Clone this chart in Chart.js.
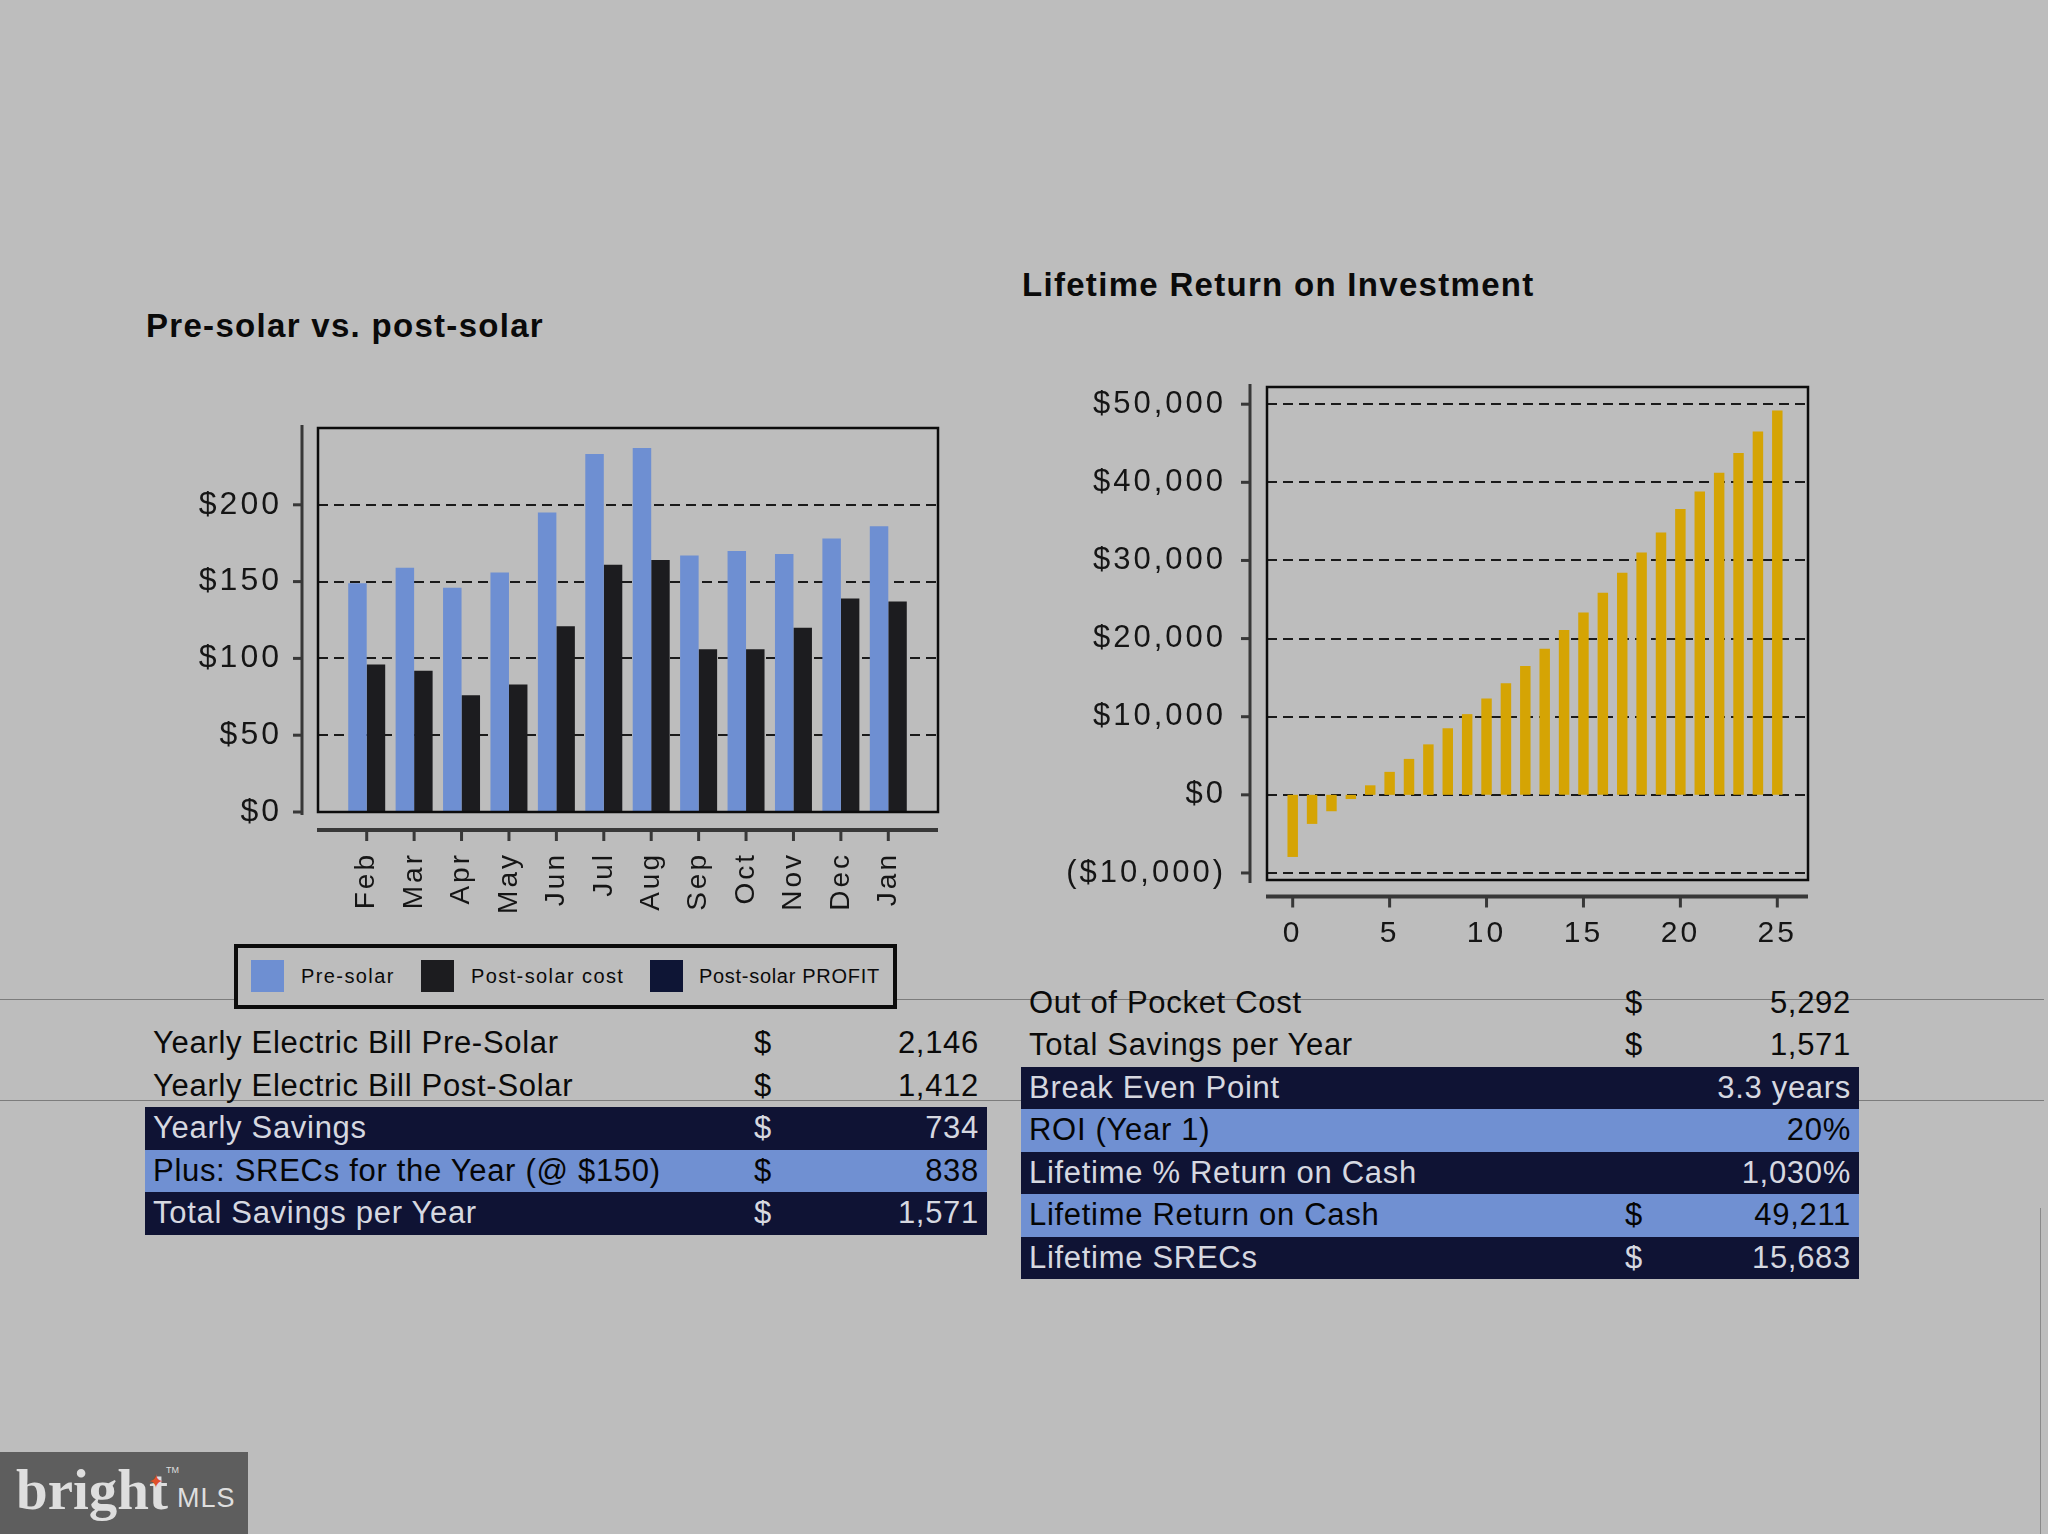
<!DOCTYPE html>
<html>
<head>
<meta charset="utf-8">
<script src="https://cdn.jsdelivr.net/npm/chart.js"></script>
<style>
  html, body { margin: 0; padding: 0; }
  body { width: 2048px; height: 1534px; background: #bdbdbd; position: relative; overflow: hidden;
         font-family: "Liberation Sans", Arial, sans-serif; color: #0a0a0a; }
  .hline { position: absolute; left: 0; width: 2044px; height: 1px; background: #7c7c7c; }
  .vline { position: absolute; left: 2040px; top: 1208px; width: 1px; height: 326px; background: #8a8a8a; }
  .title { position: absolute; font-weight: bold; font-size: 33px; line-height: 33px; letter-spacing: 1.3px; white-space: nowrap; }
  canvas { position: absolute; }
  #legend { position: absolute; left: 234px; top: 944px; width: 663px; height: 65px; border: 4px solid #0c0c0c;
            background: #bdbdbd; box-sizing: border-box; }
  #legend .sw { position: absolute; top: 12px; width: 33px; height: 32px; }
  #legend .lb { position: absolute; top: 16px; font-size: 20px; line-height: 24px; white-space: nowrap; }
  .tbl { position: absolute; }
  .row { position: relative; height: 42.5px; line-height: 42.5px; font-size: 31px; letter-spacing: 0.7px; white-space: nowrap; }
  .row span { position: absolute; top: 0; }
  .row.dark { background: #0f1334; color: #d6d8e0; }
  .row.light { background: #7090d2; color: #050505; }
  #logo { position: absolute; left: 0; top: 1452px; width: 248px; height: 82px; background: #5e5e5e; color: #dedede; }
</style>
</head>
<body>
<div class="hline" style="top:999px"></div>
<div class="hline" style="top:1100px"></div>
<div class="vline"></div>

<div class="title" style="left:146px; top:309px">Pre-solar vs. post-solar</div>
<div class="title" style="left:1022px; top:268px">Lifetime Return on Investment</div>

<canvas id="billChart" width="820" height="530" style="left:140px; top:400px"></canvas>
<canvas id="roiChart" width="820" height="600" style="left:1020px; top:360px"></canvas>

<div id="legend"></div>
<div class="tbl" id="leftTable" style="left:145px; top:1022px; width:842px"></div>
<div class="tbl" id="rightTable" style="left:1021px; top:981.7px; width:838px"></div>

<div id="logo">
  <span style="position:absolute; left:16px; top:5px; font-family:'Liberation Serif', serif; font-weight:bold; font-size:57px;">bright</span>
  <span style="position:absolute; left:148px; top:18px; color:#e0502a; font-size:19px; font-family:'DejaVu Sans';">&#10022;</span>
  <span style="position:absolute; left:166px; top:13px; font-size:9px;">TM</span>
  <span style="position:absolute; left:177px; top:31px; font-size:27px; letter-spacing:1px;">MLS</span>
</div>

<script>
Chart.defaults.font.family = '"Liberation Sans", Arial, sans-serif';
Chart.defaults.color = '#151515';

// monthly bills
var months = ['Feb', 'Mar', 'Apr', 'May', 'Jun', 'Jul', 'Aug', 'Sep', 'Oct', 'Nov', 'Dec', 'Jan'];
var preSolar = [149, 159, 146, 156, 195, 233, 237, 167, 170, 168, 178, 186];
var postSolarCost = [96, 92, 76, 83, 121, 161, 164, 106, 106, 120, 139, 137];
var postSolarProfit = [0, 0, 0, 0, 0, 0, 0, 0, 0, 0, 0, 0];
var billTicks = [0, 50, 100, 150, 200];

// lifetime return
var years = [0, 1, 2, 3, 4, 5, 6, 7, 8, 9, 10, 11, 12, 13, 14, 15, 16, 17, 18, 19, 20, 21, 22, 23, 24, 25];
var cumulativeReturn = [-7950, -3720, -2100, -540, 1220, 2940, 4600, 6460, 8520, 10330, 12340, 14290, 16500,
                        18700, 21100, 23350, 25850, 28440, 31030, 33580, 36570, 38820, 41220, 43760, 46500, 49200];
var roiTicks = [-10000, 0, 10000, 20000, 30000, 40000, 50000];

// tables
var leftRows = ['Yearly Electric Bill Pre-Solar', 'Yearly Electric Bill Post-Solar', 'Yearly Savings',
                'Plus: SRECs for the Year (@ $150)', 'Total Savings per Year'];
var leftSigns = ['$', '$', '$', '$', '$'];
var leftValues = ['2,146', '1,412', '734', '838', '1,571'];
var leftShade = ['', '', 'dark', 'light', 'dark'];

var rightRows = ['Out of Pocket Cost', 'Total Savings per Year', 'Break Even Point', 'ROI (Year 1)',
                 'Lifetime % Return on Cash', 'Lifetime Return on Cash', 'Lifetime SRECs'];
var rightSigns = ['$', '$', '', '', '', '$', '$'];
var rightValues = ['5,292', '1,571', '3.3 years', '20%', '1,030%', '49,211', '15,683'];
var rightShade = ['', '', 'dark', 'light', 'dark', 'light', 'dark'];

// legend item placement inside the box
var legendSwatchX = [13, 183, 412];
var legendTextX = [63, 233, 461];
var legendSpacing = [1.4, 1.4, 0.7];

function money(v) {
  var s = '$' + Math.abs(v).toLocaleString('en-US');
  return v < 0 ? '(' + s + ')' : s;
}

// keep the tick labels from pushing the plot area around
function noAutoPad(s) {
  s.paddingTop = 0;
  s.paddingBottom = 0;
  s.paddingLeft = 0;
  s.paddingRight = 0;
}

// box around the plot, dashed grid, and axis lines set off from the box
var frame = {
  id: 'frame',
  beforeDraw: function(chart) {
    chart.ctx.letterSpacing = '3px';
  },
  beforeDatasetsDraw: function(chart, args, o) {
    var ctx = chart.ctx, a = chart.chartArea, y = chart.scales.y;
    var L = a.left - o.padL, R = a.right + o.padR;
    ctx.save();
    ctx.strokeStyle = '#1a1a1a';
    ctx.lineWidth = 2;
    ctx.setLineDash([10, 6]);
    y.ticks.forEach(function(t) {
      var py = Math.round(y.getPixelForValue(t.value));
      if (Math.abs(py - a.bottom) < 3) return;
      ctx.beginPath();
      ctx.moveTo(L, py);
      ctx.lineTo(R, py);
      ctx.stroke();
    });
    ctx.restore();
  },
  afterDatasetsDraw: function(chart, args, o) {
    var ctx = chart.ctx, a = chart.chartArea, x = chart.scales.x, y = chart.scales.y;
    var L = a.left - o.padL, R = a.right + o.padR;
    ctx.save();
    ctx.strokeStyle = '#0c0c0c';
    ctx.lineWidth = 2.5;
    ctx.strokeRect(L, a.top, R - L, a.bottom - a.top);

    ctx.strokeStyle = '#383838';
    // y axis
    var ax = a.left - o.yGap;
    ctx.lineWidth = 3;
    ctx.beginPath();
    ctx.moveTo(ax, a.top - 3);
    ctx.lineTo(ax, a.bottom + 3);
    ctx.stroke();
    y.ticks.forEach(function(t) {
      var py = y.getPixelForValue(t.value);
      ctx.beginPath();
      ctx.moveTo(ax - 9, py);
      ctx.lineTo(ax, py);
      ctx.stroke();
    });
    // x axis
    var ay = a.bottom + o.xGap;
    ctx.lineWidth = 4;
    ctx.beginPath();
    ctx.moveTo(L - 1, ay);
    ctx.lineTo(R, ay);
    ctx.stroke();
    ctx.lineWidth = 3;
    x.ticks.forEach(function(t, i) {
      if (o.every && years[i] % o.every !== 0) return;
      var px = x.getPixelForValue(t.value);
      ctx.beginPath();
      ctx.moveTo(px, ay);
      ctx.lineTo(px, ay + 11);
      ctx.stroke();
    });
    ctx.restore();
  }
};

var billChart = new Chart(document.getElementById('billChart'), {
  type: 'bar',
  data: {
    labels: months,
    datasets: [
      { label: 'Pre-solar', data: preSolar, backgroundColor: '#6e8fd2' },
      { label: 'Post-solar cost', data: postSolarCost, backgroundColor: '#1c1c1f' },
      { label: 'Post-solar PROFIT', data: postSolarProfit, backgroundColor: '#0e1535', hidden: true }
    ]
  },
  options: {
    responsive: false,
    animation: false,
    layout: { padding: { left: 0, right: 48, top: 28, bottom: 0 } },
    datasets: { bar: { categoryPercentage: 0.78, barPercentage: 1 } },
    plugins: {
      legend: { display: false },
      tooltip: { enabled: false },
      frame: { padL: 25, padR: 26, yGap: 41, xGap: 18 }
    },
    scales: {
      x: {
        grid: { display: false, drawTicks: false },
        border: { display: false },
        ticks: { minRotation: 90, maxRotation: 90, autoSkip: false, padding: 40, font: { size: 28 } },
        afterFit: function(s) { s.height = 118; noAutoPad(s); }
      },
      y: {
        min: 0, max: 250,
        grid: { display: false, drawTicks: false },
        border: { display: false },
        afterBuildTicks: function(s) { s.ticks = billTicks.map(function(v) { return { value: v }; }); },
        ticks: { padding: 61, font: { size: 32 }, callback: function(v) { return '$' + v; } },
        afterFit: function(s) { s.width = 203; noAutoPad(s); }
      }
    }
  },
  plugins: [frame]
});

var roiChart = new Chart(document.getElementById('roiChart'), {
  type: 'bar',
  data: {
    labels: years,
    datasets: [
      { label: 'Lifetime Return', data: cumulativeReturn, backgroundColor: '#d5a404' }
    ]
  },
  options: {
    responsive: false,
    animation: false,
    layout: { padding: { left: 0, right: 53, top: 27, bottom: 0 } },
    datasets: { bar: { categoryPercentage: 1, barPercentage: 0.54 } },
    plugins: {
      legend: { display: false },
      tooltip: { enabled: false },
      frame: { padL: 16, padR: 21, yGap: 33, xGap: 16.5, every: 5 }
    },
    scales: {
      x: {
        grid: { display: false, drawTicks: false },
        border: { display: false },
        ticks: {
          maxRotation: 0, autoSkip: false, padding: 36, font: { size: 30 },
          callback: function(v, i) { return years[i] % 5 === 0 ? String(years[i]) : ''; }
        },
        afterFit: function(s) { s.height = 80; noAutoPad(s); }
      },
      y: {
        min: -10900, max: 52200,
        grid: { display: false, drawTicks: false },
        border: { display: false },
        afterBuildTicks: function(s) { s.ticks = roiTicks.map(function(v) { return { value: v }; }); },
        ticks: { padding: 57, font: { size: 31 }, callback: function(v) { return money(v); } },
        afterFit: function(s) { s.width = 263; noAutoPad(s); }
      }
    }
  },
  plugins: [frame]
});

// legend built from the bill chart's datasets
var legend = document.getElementById('legend');
billChart.data.datasets.forEach(function(ds, i) {
  var sw = document.createElement('span');
  sw.className = 'sw';
  sw.style.background = ds.backgroundColor;
  sw.style.left = legendSwatchX[i] + 'px';
  var lb = document.createElement('span');
  lb.className = 'lb';
  lb.style.left = legendTextX[i] + 'px';
  lb.style.letterSpacing = legendSpacing[i] + 'px';
  lb.textContent = ds.label;
  legend.appendChild(sw);
  legend.appendChild(lb);
});

function buildTable(id, labels, signs, values, shade, signX) {
  var box = document.getElementById(id);
  labels.forEach(function(label, i) {
    var row = document.createElement('div');
    row.className = 'row ' + shade[i];
    row.innerHTML = '<span style="left:8px">' + label + '</span>' +
      '<span style="left:' + signX + 'px; transform:translateX(-50%)">' + signs[i] + '</span>' +
      '<span style="right:8px">' + values[i] + '</span>';
    box.appendChild(row);
  });
}
buildTable('leftTable', leftRows, leftSigns, leftValues, leftShade, 618);
buildTable('rightTable', rightRows, rightSigns, rightValues, rightShade, 613);
</script>
</body>
</html>
